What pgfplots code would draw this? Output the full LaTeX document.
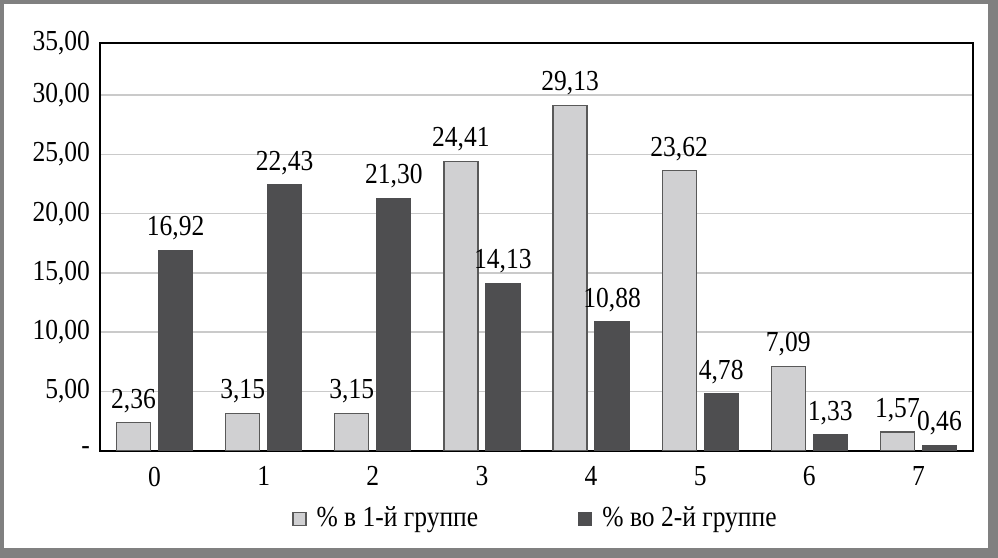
\documentclass[border=0pt]{standalone}
\usepackage{pgfplots}
\pgfplotsset{compat=1.18}
\usepackage{fontspec}
\setmainfont{Liberation Serif}[FakeStretch=0.88]

\definecolor{barlight}{HTML}{D0D0D2}
\definecolor{bardark}{HTML}{4E4E50}
\definecolor{gridgray}{HTML}{CACACA}
\definecolor{framegray}{HTML}{808080}

\begin{document}
\fontsize{14.5pt}{17pt}\selectfont
\begin{tikzpicture}
% outer frame of the picture
\fill[framegray] (-50pt,-53.65pt) rectangle (449pt,225.35pt);
\fill[white] (-48pt,-48.65pt) rectangle (444pt,223.35pt);
\begin{axis}[
    at={(0,0)}, anchor=south west,
    scale only axis,
    width=436.5pt, height=203.85pt,
    ybar=4pt,
    bar width=17pt,
    xmin=-0.5, xmax=7.5,
    ymin=0, ymax=34.4,
    xtick=data,
    ytick={0,5,10,15,20,25,30,34.4},
    yticklabels={{-},{5,00},{10,00},{15,00},{20,00},{25,00},{30,00},{35,00}},
    ymajorgrids=true,
    grid style={gridgray, line width=0.8pt},
    major tick length=0pt,
    axis line style={black, line width=1pt},
    xticklabel style={yshift=-3pt},
    /pgf/number format/assume math mode=true,
    nodes near coords={\pgfmathprintnumber[fixed,fixed zerofill,precision=2,use comma]{\pgfplotspointmeta}},
    legend columns=2,
    legend style={draw=none, fill=none, at={(0.5,-0.1675)}, anchor=center,
        /tikz/every odd column/.append style={column sep=3pt},
        /tikz/every even column/.append style={column sep=48pt}},
    legend image code/.code={\draw[#1] (0pt,-3.25pt) rectangle (6.5pt,3.25pt);},
]
\addplot[fill=barlight, draw=black!65, line width=0.6pt] coordinates {
    (0,2.36) (1,3.15) (2,3.15) (3,24.41) (4,29.13) (5,23.62) (6,7.09) (7,1.57)};
\addplot[fill=bardark, draw=bardark, line width=0.6pt] coordinates {
    (0,16.92) (1,22.43) (2,21.30) (3,14.13) (4,10.88) (5,4.78) (6,1.33) (7,0.46)};
\legend{\% в 1-й группе, \% во 2-й группе}
\end{axis}
\end{tikzpicture}
\end{document}
